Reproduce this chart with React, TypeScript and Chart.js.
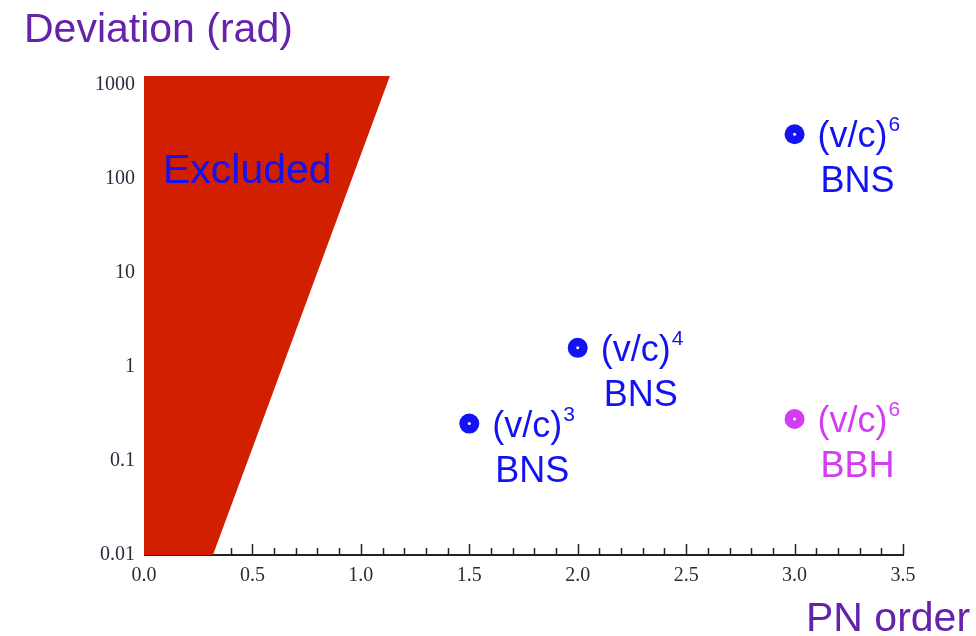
import React, { useEffect, useRef } from "react";
import { Chart, registerables } from "chart.js";

Chart.register(...registerables);

// ---- data ----
const pnOrders = [1.5, 2.0, 3.0, 3.0];
const deviations = [0.25, 1.6, 300, 0.28];
const exponents = ["3", "4", "6", "6"];
const systems = ["BNS", "BNS", "BNS", "BBH"];

// excluded region boundary (PN order at bottom and at top of the plot)
const excludedX = [0, 1.134, 0.318, 0];
const excludedY = [1250, 1250, 0.01, 0.01];

const yTicks = [0.01, 0.1, 1, 10, 100, 1000];
const xMin = 0;
const xMax = 3.5;
const yMin = 0.01;
const yMax = 1250;

const RED = "#d21f00";
const BLUE = "#1212f2";
const MAGENTA = "#d23cf2";
const PURPLE = "#6423ab";
const SANS = '"Liberation Sans", Arial, sans-serif';
const SERIF = '"Liberation Serif", "Times New Roman", serif';

const colorFor = (s: string) => (s === "BBH" ? MAGENTA : BLUE);

export default function App() {
  const ref = useRef<HTMLCanvasElement | null>(null);

  useEffect(() => {
    document.body.style.margin = "0";
    const canvas = ref.current!;

    const decorations = {
      id: "decorations",
      beforeDatasetsDraw(chart: any) {
        const { ctx, chartArea, scales } = chart;
        const xs = scales.x;
        const ys = scales.y;
        ctx.save();
        // x axis line and inward ticks
        ctx.strokeStyle = "#222";
        ctx.lineWidth = 2;
        ctx.beginPath();
        ctx.moveTo(chartArea.left, chartArea.bottom);
        ctx.lineTo(chartArea.right + 1, chartArea.bottom);
        ctx.stroke();
        ctx.lineWidth = 1.5;
        for (let i = 1; i <= 35; i++) {
          const v = i / 10;
          const px = Math.round(xs.getPixelForValue(v)) + 0.5;
          const len = i % 5 === 0 ? 11 : 7;
          ctx.beginPath();
          ctx.moveTo(px, chartArea.bottom);
          ctx.lineTo(px, chartArea.bottom - len);
          ctx.stroke();
        }
        // excluded region
        ctx.fillStyle = RED;
        ctx.beginPath();
        excludedX.forEach((x, i) => {
          const px = xs.getPixelForValue(x);
          const py = ys.getPixelForValue(excludedY[i]);
          if (i === 0) ctx.moveTo(px, py);
          else ctx.lineTo(px, py);
        });
        ctx.closePath();
        ctx.fill();
        ctx.restore();
      },
      afterDatasetsDraw(chart: any) {
        const { ctx, chartArea, scales } = chart;
        const xs = scales.x;
        const ys = scales.y;
        ctx.save();
        // Excluded label
        ctx.fillStyle = BLUE;
        ctx.font = `41px ${SANS}`;
        ctx.textBaseline = "alphabetic";
        ctx.textAlign = "left";
        ctx.fillText("Excluded", chartArea.left + 19, chartArea.top + 107);

        // point labels
        for (let i = 0; i < pnOrders.length; i++) {
          const px = xs.getPixelForValue(pnOrders[i]);
          const py = ys.getPixelForValue(deviations[i]);
          const col = colorFor(systems[i]);
          ctx.fillStyle = col;
          ctx.font = `36px ${SANS}`;
          const base = "(v/c)";
          ctx.fillText(base, px + 23, py + 13);
          const w = ctx.measureText(base).width;
          ctx.font = `21px ${SANS}`;
          ctx.fillText(exponents[i], px + 23 + w + 1, py - 3);
          ctx.font = `36px ${SANS}`;
          ctx.fillText(systems[i], px + 26, py + 58);
        }

        // axis titles
        ctx.fillStyle = PURPLE;
        ctx.font = `41px ${SANS}`;
        ctx.fillText("Deviation (rad)", 24, 42);
        ctx.fillText("PN order", 806, 631);
        ctx.restore();
      },
    };

    const chart = new Chart(canvas, {
      type: "scatter",
      data: {
        datasets: [
          {
            label: "points",
            data: pnOrders.map((x, i) => ({ x, y: deviations[i] })),
            backgroundColor: systems.map(colorFor),
            pointRadius: 10,
            pointBorderWidth: 0,
            pointHoverRadius: 10,
            order: 2,
          },
          {
            label: "centers",
            data: pnOrders.map((x, i) => ({ x, y: deviations[i] })),
            backgroundColor: "#ffffff",
            pointRadius: 1.5,
            pointBorderWidth: 0,
            order: 1,
          },
        ],
      },
      options: {
        responsive: false,
        animation: false,
        devicePixelRatio: 1,
        layout: { padding: { top: 76, right: 73, left: 0, bottom: 0 } },
        plugins: {
          legend: { display: false },
          tooltip: { enabled: false },
        },
        scales: {
          x: {
            type: "linear",
            min: xMin,
            max: xMax,
            afterFit: (s: any) => {
              s.height = 81;
            },
            grid: { display: false, drawTicks: false },
            border: { display: false },
            ticks: {
              stepSize: 0.5,
              padding: 9,
              color: "#2b2b3d",
              font: { family: SERIF, size: 20 },
              callback: (v: any) => Number(v).toFixed(1),
            },
          },
          y: {
            type: "logarithmic",
            min: yMin,
            max: yMax,
            afterFit: (s: any) => {
              s.width = 144;
            },
            afterBuildTicks: (s: any) => {
              s.ticks = yTicks.map((v) => ({ value: v }));
            },
            grid: { display: false, drawTicks: false },
            border: { display: false },
            ticks: {
              padding: 9,
              color: "#2b2b3d",
              font: { family: SERIF, size: 20 },
              callback: (v: any) => String(v),
            },
          },
        },
      },
      plugins: [decorations],
    });

    return () => chart.destroy();
  }, []);

  return (
    <div style={{ position: "absolute", left: 0, top: 0, width: 976, height: 636, background: "#fff" }}>
      <canvas ref={ref} width={976} height={636} />
    </div>
  );
}
